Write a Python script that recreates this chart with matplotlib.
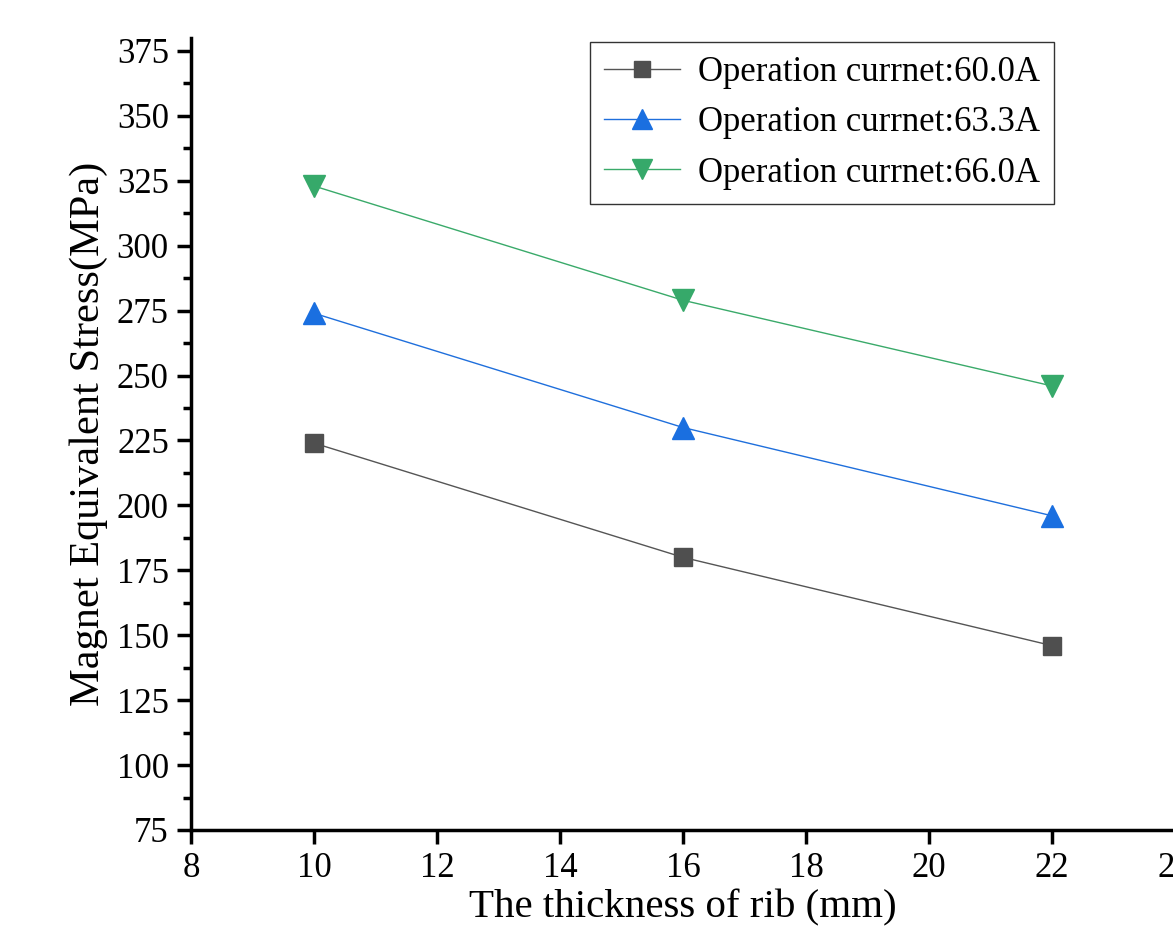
import matplotlib
matplotlib.use("Agg")
import matplotlib.pyplot as plt
from matplotlib.ticker import MultipleLocator

plt.rcParams['font.family'] = ['Liberation Serif', 'DejaVu Serif']
plt.rcParams['mathtext.fontset'] = 'stix'

thickness = [10, 16, 22]
stress_60 = [224, 180, 146]
stress_633 = [274, 230, 196]
stress_66 = [323, 279, 246]
labels = ["Operation currnet:60.0A", "Operation currnet:63.3A", "Operation currnet:66.0A"]

fig = plt.figure(figsize=(11.73, 9.36), dpi=100)
ax = fig.add_axes([191/1173, 1-830/936, 984/1173, (830-38)/936])

ax.plot(thickness, stress_60, color='#555555', lw=1.0, marker='s', ms=13,
        mfc='#4f4f4f', mec='#4f4f4f', label=labels[0])
ax.plot(thickness, stress_633, color='#1f6fdc', lw=1.0, marker='^', ms=16.5,
        mfc='#1a6fe0', mec='#1a6fe0', label=labels[1])
ax.plot(thickness, stress_66, color='#3aaa6a', lw=1.0, marker='v', ms=16.5,
        mfc='#36a96a', mec='#36a96a', label=labels[2])

ax.set_xlim(8, 24)
ax.set_ylim(75, 380)
ax.xaxis.set_major_locator(MultipleLocator(2))
ax.yaxis.set_major_locator(MultipleLocator(25))
ax.yaxis.set_minor_locator(MultipleLocator(12.5))
for s in ['top', 'right']:
    ax.spines[s].set_visible(False)
for s in ['left', 'bottom']:
    ax.spines[s].set_linewidth(2.5)
ax.tick_params(axis='both', which='major', direction='out', length=10, width=2.5,
               labelsize=25, pad=6)
ax.tick_params(axis='y', which='minor', direction='out', length=6, width=2.5)
ax.tick_params(axis='x', which='minor', bottom=False)

ax.set_xlabel("The thickness of rib (mm)", fontsize=29.5, labelpad=3)
ax.set_ylabel("Magnet Equivalent Stress(MPa)", fontsize=30.5, labelpad=6)

leg = ax.legend(loc='upper left', bbox_to_anchor=(590/1173, 1-42/936),
                bbox_transform=fig.transFigure, fontsize=25, frameon=True,
                fancybox=False, edgecolor='black', borderpad=0.4,
                handlelength=2.2, handletextpad=0.5, labelspacing=0.5,
                borderaxespad=0)
leg.get_frame().set_linewidth(1.0)
for lh in leg.legend_handles:
    lh.set_markersize(12 if lh.get_marker() == 's' else 15)

fig.savefig("out.png", dpi=100)
